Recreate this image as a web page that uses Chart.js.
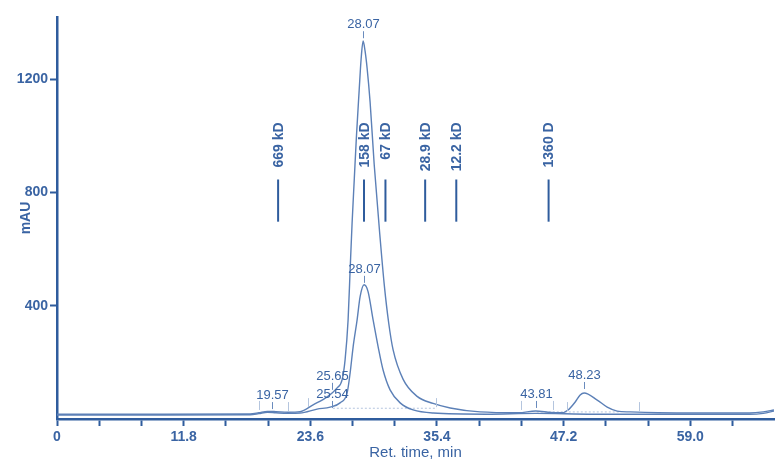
<!DOCTYPE html>
<html>
<head>
<meta charset="utf-8">
<script src="https://cdn.jsdelivr.net/npm/chart.js@4"></script>
<style>
  html, body { margin: 0; padding: 0; background: #fff; }
</style>
</head>
<body>
<canvas id="myChart" width="784" height="468"></canvas>
<script>
// trace 1 (tall run)
var timesA = [0, 10, 18, 18.8, 19.6, 20.4, 21.5, 22.65, 23.86, 25.17, 26.1, 26.56, 26.84, 27.12, 27.31, 27.49, 27.7, 27.9, 28.15, 28.33, 28.52, 28.7, 28.89, 29.17, 29.55, 30.1, 30.5, 30.9, 31.31, 32.25, 33.55, 35.04, 36.63, 39.42, 43.0, 44.6, 46.0, 47.0, 47.62, 48.28, 48.74, 49.11, 50.33, 51.26, 52.19, 53.4, 56, 60, 64.5, 65.8, 66.8];
var valuesA = [17, 17, 18, 22, 27, 26, 24, 26, 50, 78, 110, 138, 209, 350, 527, 690, 850, 1000, 1160, 1270, 1335, 1300, 1240, 1120, 900, 640, 470, 340, 245, 140, 80, 55, 39, 25, 22, 28, 23, 22, 32, 60, 85, 92, 67, 42, 28, 25, 22, 21, 21, 25, 32];
// trace 2 (lower run)
var timesB = [0, 10, 18, 18.8, 19.6, 20.4, 21.5, 22.65, 24.23, 25.45, 26.37, 27.03, 27.31, 27.59, 27.96, 28.24, 28.61, 28.98, 29.45, 29.92, 30.38, 31.03, 31.97, 33.18, 35.04, 40, 44.6, 50, 56, 60, 64.5, 65.8, 66.8];
var valuesB = [14, 14, 15, 19, 24, 22, 20, 21, 35, 42, 57, 92, 163, 255, 350, 432, 474, 450, 350, 255, 173, 103, 57, 32, 21, 17, 20, 17, 17, 17, 17, 20, 28];
// integration baselines (dotted)
var baseTimes1 = [25.7, 35.4];
var baseValues1 = [38, 38];
var baseTimes2 = [44.7, 52.5];
var baseValues2 = [25, 25];

// peak labels: time, value at bottom of the little tick, text
var peakTimes = [28.5, 28.6, 25.63, 25.63, 20.0, 44.6, 49.1];
var peakValues = [1345, 481, 103, 39, 35, 39, 106];
var peakLabels = ['28.07', '28.07', '25.65', '25.54', '19.57', '43.81', '48.23'];

// integration cut marks
var cutTimes = [18.8, 21.5, 23.4, 35.3, 43.2, 46.2, 47.5, 54.2];
var cutValues = [32, 28, 42, 42, 32, 32, 28, 28];

// calibration standards
var stdTimes = [20.6, 28.6, 30.6, 34.3, 37.2, 45.8];
var stdLabels = ['669 kD', '158 kD', '67 kD', '28.9 kD', '12.2 kD', '1360 D'];
var stdLineTop = 846, stdLineBottom = 697, stdTextTop = 1048;

var xTickStep = 11.8 / 3;
var xTickLabels = ['0', '11.8', '23.6', '35.4', '47.2', '59.0'];
var yTickValues = [400, 800, 1200];

var blue = '#2f5c9d';
var textBlue = '#3a64a3';
var traceBlue = '#5c80b7';
var FONT = "'Liberation Sans', Arial, sans-serif";

function pts(ts, vs) {
  return ts.map((t, i) => ({ x: t, y: vs[i] }));
}

const annotate = {
  id: 'annotate',
  afterDatasetsDraw(chart) {
    const ctx = chart.ctx, xs = chart.scales.x, ys = chart.scales.y;
    ctx.save();
    // cut marks
    ctx.strokeStyle = '#b4c5de';
    ctx.lineWidth = 1;
    cutTimes.forEach((t, i) => {
      const px = Math.round(xs.getPixelForValue(t)) + 0.5;
      const py = ys.getPixelForValue(cutValues[i]);
      ctx.beginPath(); ctx.moveTo(px, py); ctx.lineTo(px, py - 9); ctx.stroke();
    });
    // peak labels
    ctx.strokeStyle = '#6a8bbd';
    ctx.fillStyle = textBlue;
    ctx.font = '13px ' + FONT;
    ctx.textAlign = 'center';
    ctx.textBaseline = 'bottom';
    peakTimes.forEach((t, i) => {
      const px = Math.round(xs.getPixelForValue(t)) + 0.5;
      const py = ys.getPixelForValue(peakValues[i]);
      ctx.beginPath(); ctx.moveTo(px, py); ctx.lineTo(px, py - 7); ctx.stroke();
      ctx.fillText(peakLabels[i], px, py - 7);
    });
    // standards
    ctx.strokeStyle = blue;
    ctx.lineWidth = 2;
    ctx.font = 'bold 14px ' + FONT;
    stdTimes.forEach((t, i) => {
      const px = xs.getPixelForValue(t);
      ctx.beginPath();
      ctx.moveTo(px, ys.getPixelForValue(stdLineTop));
      ctx.lineTo(px, ys.getPixelForValue(stdLineBottom));
      ctx.stroke();
      ctx.save();
      ctx.translate(px, ys.getPixelForValue(stdTextTop));
      ctx.rotate(-Math.PI / 2);
      ctx.textAlign = 'right';
      ctx.textBaseline = 'middle';
      ctx.fillText(stdLabels[i], 0, 1);
      ctx.restore();
    });
    ctx.restore();
  }
};

new Chart(document.getElementById('myChart'), {
  type: 'scatter',
  data: {
    datasets: [
      { data: pts(timesA, valuesA), borderColor: traceBlue, borderWidth: 1.4, showLine: true, pointRadius: 0, cubicInterpolationMode: 'monotone' },
      { data: pts(timesB, valuesB), borderColor: traceBlue, borderWidth: 1.4, showLine: true, pointRadius: 0, cubicInterpolationMode: 'monotone' },
      { data: pts(baseTimes1, baseValues1), borderColor: '#b4c5de', borderWidth: 1, borderDash: [2, 2], showLine: true, pointRadius: 0 },
      { data: pts(baseTimes2, baseValues2), borderColor: '#b4c5de', borderWidth: 1, borderDash: [2, 2], showLine: true, pointRadius: 0 }
    ]
  },
  options: {
    responsive: false,
    animation: false,
    devicePixelRatio: 1,
    layout: { padding: { top: 17, right: 10, left: 0, bottom: 0 } },
    plugins: { legend: { display: false }, tooltip: { enabled: false } },
    scales: {
      x: {
        type: 'linear',
        min: 0,
        max: 66.8,
        afterBuildTicks: s => {
          const t = [];
          for (let i = 0; i <= 16; i++) t.push({ value: i * xTickStep });
          s.ticks = t;
        },
        afterFit: s => { s.height = 49; },
        grid: { drawOnChartArea: false, tickLength: 7, tickWidth: 2, tickColor: blue },
        border: { color: blue, width: 2.5 },
        ticks: {
          color: textBlue,
          padding: 3,
          maxRotation: 0,
          autoSkip: false,
          font: { family: FONT, size: 14, weight: 'bold' },
          callback: (v, i) => (i % 3 === 0 ? xTickLabels[i / 3] : '')
        },
        title: { display: true, text: 'Ret. time, min', color: textBlue, font: { family: FONT, size: 15 }, padding: { top: 0, bottom: 6 } }
      },
      y: {
        min: 0,
        max: 1420,
        afterBuildTicks: s => { s.ticks = yTickValues.map(v => ({ value: v })); },
        afterFit: s => { s.width = 57; },
        grid: { drawOnChartArea: false, tickLength: 7, tickWidth: 2, tickColor: blue },
        border: { color: blue, width: 2.5 },
        ticks: { color: textBlue, padding: 2, font: { family: FONT, size: 14, weight: 'bold' }, callback: v => String(v) },
        title: { display: true, text: 'mAU', color: textBlue, font: { family: FONT, size: 14, weight: 'bold' }, padding: { top: 18, bottom: 0 } }
      }
    }
  },
  plugins: [annotate]
});
</script>
</body>
</html>
